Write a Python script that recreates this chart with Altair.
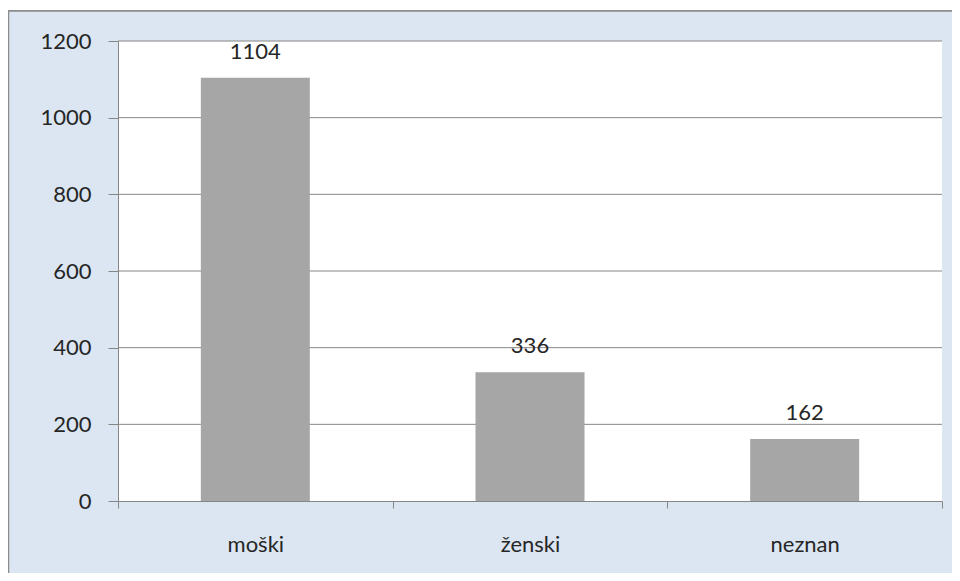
import altair as alt
import pandas as pd

categories = ["moški", "ženski", "neznan"]
values = [1104, 336, 162]
y_ticks = [0, 200, 400, 600, 800, 1000, 1200]

W, H = 824, 460
FONT = "Lato"
GRID = "#868686"
TXT = "#262626"

df = pd.DataFrame({"cat": categories, "val": values})
grid_df = pd.DataFrame({"v": y_ticks[1:]})

x_enc = alt.X("cat:N", sort=categories, title=None,
              scale=alt.Scale(paddingInner=0, paddingOuter=0),
              axis=alt.Axis(labelAngle=0, tickBand="extent", tickSize=7,
                            tickColor=GRID, domainColor=GRID, labelFont=FONT,
                            labelFontSize=22, labelColor=TXT, labelPadding=26,
                            grid=False, zindex=1))
y_enc = alt.Y("val:Q", title=None,
              scale=alt.Scale(domain=[0, 1200], nice=False),
              axis=alt.Axis(values=y_ticks, format="d", tickSize=10,
                            tickColor=GRID, domainColor=GRID, labelFont=FONT,
                            labelFontSize=22, labelColor=TXT, labelPadding=17,
                            grid=False, zindex=1))

base = alt.Chart(df)

frame = base.mark_rect(fill="#dce6f2", stroke="#8c8c8c", strokeWidth=1.5,
                       clip=False).encode(
    x=alt.value(-109.5), x2=alt.value(W + 40),
    y=alt.value(-30), y2=alt.value(H + 100))
plot_bg = base.mark_rect(fill="white").encode(
    x=alt.value(0), x2=alt.value(W), y=alt.value(0), y2=alt.value(H))

grid = alt.Chart(grid_df).mark_rule(color=GRID, strokeWidth=1).encode(
    y=alt.Y("v:Q", scale=alt.Scale(domain=[0, 1200], nice=False)))

bars = base.mark_bar(color="#a6a6a6", width=109).encode(x=x_enc, y=y_enc)
labels = base.mark_text(font=FONT, fontSize=22, color=TXT, dy=-19,
                        baseline="alphabetic").encode(
    x=alt.X("cat:N", sort=categories), y="val:Q", text="val:Q")

chart = alt.layer(frame, plot_bg, grid, bars, labels).properties(
    width=W, height=H,
    autosize=alt.AutoSizeParams(type="none"),
    padding={"left": 110, "top": 33, "right": 10, "bottom": 72},
    background="white",
).configure_view(stroke=None)

chart.save("out.html", embed_options={"renderer": "svg", "actions": False})
